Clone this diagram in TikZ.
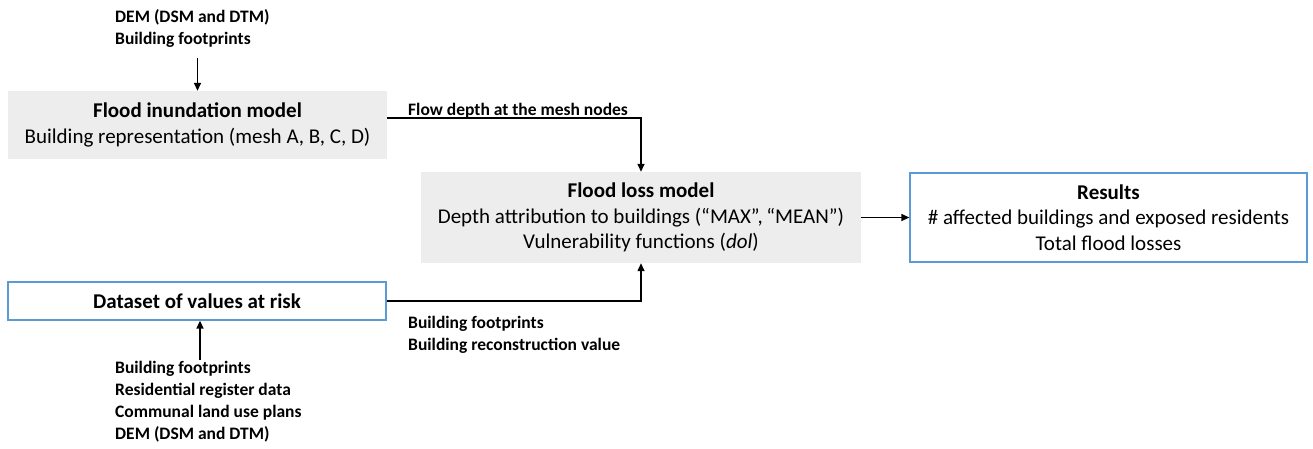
\documentclass[tikz,border=0pt]{standalone}
\usepackage{fontspec}
\setmainfont{Carlito}
\usetikzlibrary{arrows.meta}
\definecolor{boxgray}{HTML}{EDEDED}
\definecolor{boxblue}{HTML}{5B9BD5}
\begin{document}
\begin{tikzpicture}[x=1pt,y=-1pt,
  mainfont/.style={font=\fontsize{21}{25.5}\selectfont},
  lblfont/.style={font=\bfseries\fontsize{17.5}{22}\selectfont},
  graybox/.style={rectangle,fill=boxgray,inner sep=0pt,align=center,mainfont},
  bluebox/.style={rectangle,draw=boxblue,line width=1.3pt,fill=white,inner sep=0pt,align=center,mainfont},
  lbl/.style={inner sep=0pt,align=left,lblfont},
  arr/.style={line width=1.4pt,-{Triangle[length=8pt,width=7pt]}}]
\useasboundingbox (0,0) rectangle (1313,448);

% process boxes
\node[graybox,minimum width=379pt,minimum height=68pt] (inund) at (197.5,125)
  {\textbf{Flood inundation model}\\Building representation (mesh A, B, C, D)};
\node[graybox,minimum width=440pt,minimum height=91pt] (loss) at (641,217.5)
  {\textbf{Flood loss model}\\Depth attribution to buildings (“MAX”,\,“MEAN”)\\Vulnerability functions (\textit{dol})};
\node[bluebox,minimum width=397pt,minimum height=89pt] (res) at (1108.5,217.5)
  {\textbf{Results}\\\# affected buildings and exposed residents\\Total flood losses};
\node[bluebox,minimum width=378pt,minimum height=38pt] (data) at (197,301)
  {\textbf{Dataset of values at risk}};

% input labels
\node[lbl,anchor=north west] (intop) at (115,9) {DEM (DSM and DTM)\\Building footprints};
\node[lbl,anchor=base west] (flow) at (408,115) {Flow depth at the mesh nodes};
\node[lbl,anchor=north west] (bldg) at (408,316) {Building footprints\\Building reconstruction value};
\node[lbl,anchor=north west] (inbot) at (115,361) {Building footprints\\Residential register data\\Communal land use plans\\DEM (DSM and DTM)};

% connectors
\coordinate (topstart) at (197.5,58);
\coordinate (botstart) at (200,360);
\draw[arr] (topstart) -- (inund.north);
\draw[arr] ([yshift=7pt]inund.east) -| (loss.north);
\draw[arr] (loss.east) -- (res.west);
\draw[arr] (data.east) -| (loss.south);
\draw[arr] (botstart) -- (botstart |- data.south);
\end{tikzpicture}
\end{document}
